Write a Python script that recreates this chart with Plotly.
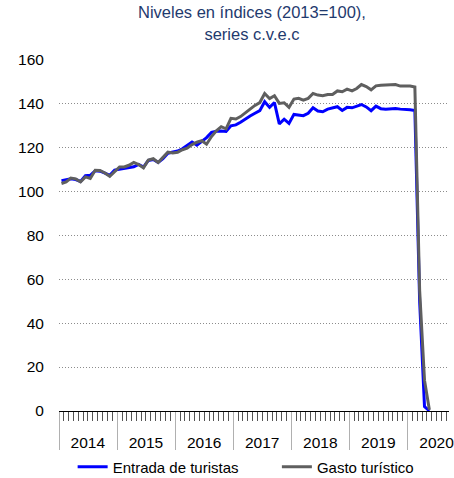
import pandas as pd
import plotly.graph_objects as go

# Monthly series, January 2014 to May 2020 (index 2013 = 100, seasonally and calendar adjusted)
months = pd.date_range("2014-01-01", "2020-05-01", freq="MS")

entrada_turistas = [
    105.0, 105.3, 105.8, 105.5, 104.6, 107.2, 107.4, 109.5, 109.3, 108.4, 107.4, 109.8,  # 2014
    110.2, 110.4, 110.8, 111.3, 112.4, 111.2, 114.2, 114.6, 113.3, 115.0, 117.5, 118.0,  # 2015
    118.5, 119.5, 121.0, 122.6, 121.2, 122.9, 124.6, 127.0, 127.5, 127.6, 127.4, 130.0,  # 2016
    130.4, 131.6, 133.2, 134.5, 135.7, 136.9, 141.0, 138.4, 140.6, 130.9, 133.0, 131.1,  # 2017
    135.2, 134.9, 134.6, 135.7, 138.2, 136.7, 136.4, 137.6, 138.2, 138.7, 137.0, 138.4,  # 2018
    138.2, 139.0, 139.7, 138.6, 136.9, 139.0, 137.8, 137.6, 137.9, 137.9, 137.6, 137.6,  # 2019
    137.3, 137.0, 50.0, 2.0, 0.0,                                                        # 2020
]

gasto_turistico = [
    103.7, 104.4, 106.2, 105.8, 104.4, 106.7, 106.0, 109.7, 109.6, 108.5, 107.0, 109.3,  # 2014
    111.2, 111.2, 112.0, 113.3, 112.3, 110.8, 114.4, 115.0, 113.3, 115.6, 118.0, 117.6,  # 2015
    117.9, 119.1, 119.8, 121.4, 122.5, 123.2, 121.6, 125.1, 127.7, 129.6, 128.6, 133.4,  # 2016
    133.1, 134.2, 135.7, 137.6, 139.3, 140.6, 144.7, 142.4, 143.7, 140.2, 140.5, 138.4,  # 2017
    142.2, 142.5, 141.7, 142.5, 144.7, 144.0, 143.7, 144.3, 144.3, 145.9, 145.5, 146.7,  # 2018
    145.9, 147.0, 148.8, 147.9, 146.4, 148.2, 148.5, 148.5, 148.5, 148.8, 148.1, 148.1,  # 2019
    148.1, 147.7, 55.0, 14.0, 0.5,                                                       # 2020
]

years = [2014, 2015, 2016, 2017, 2018, 2019, 2020]
year_starts = [f"{y}-01-01" for y in years] + ["2021-01-01"]
year_mids = [f"{y}-07-01" for y in years]
year_labels = [str(y) for y in years]

x_range = ["2014-01-01", "2020-09-17"]
FONT = "Arial, 'Liberation Sans', sans-serif"
PAD = "\u00a0" * 8  # spacing between the two legend entries

fig = go.Figure()
fig.add_trace(go.Scatter(
    x=months, y=entrada_turistas, name="Entrada de turistas" + PAD, mode="lines",
    line=dict(color="#0000FF", width=3),
    xperiod="M1", xperiodalignment="middle",
))
fig.add_trace(go.Scatter(
    x=months, y=gasto_turistico, name="Gasto turístico", mode="lines",
    line=dict(color="#5F5F5F", width=3),
    xperiod="M1", xperiodalignment="middle",
))
# invisible trace carrying the year-label axis
fig.add_trace(go.Scatter(
    x=[months[0]], y=[None], xaxis="x2", showlegend=False, hoverinfo="skip",
))

fig.update_layout(
    width=454, height=478,
    margin=dict(l=58.7, r=0, t=60, b=67),
    paper_bgcolor="white", plot_bgcolor="white",
    font=dict(family=FONT, size=15, color="#000000"),
    title=dict(
        text="Niveles en índices (2013=100),<br>series c.v.e.c",
        x=0.555, xanchor="center", xref="container",
        y=0.962, yanchor="top", yref="container",
        font=dict(family=FONT, size=16.5, color="#1F3A6E"),
    ),
    xaxis=dict(
        type="date", range=x_range,
        tickmode="array", tickvals=year_starts, showticklabels=False,
        ticks="outside", ticklen=38, tickcolor="#B0B0B0", tickwidth=1,
        showline=True, linecolor="#000000", linewidth=1,
        showgrid=False, zeroline=False,
        minor=dict(dtick="M1", tick0="2014-01-01", ticks="outside", ticklen=9,
                   tickcolor="#555555", tickwidth=1, showgrid=False),
    ),
    xaxis2=dict(
        type="date", range=x_range, overlaying="x", anchor="y", side="bottom",
        tickmode="array", tickvals=year_mids, ticktext=year_labels,
        ticks="outside", ticklen=17, tickcolor="rgba(0,0,0,0)",
        showline=False, showgrid=False, zeroline=False,
        ticklabeloverflow="allow",
        tickfont=dict(family=FONT, size=15.5, color="#000000"),
    ),
    yaxis=dict(
        range=[0, 160], tickvals=[0, 20, 40, 60, 80, 100, 120, 140, 160],
        ticks="outside", ticklen=11, tickcolor="rgba(0,0,0,0)",
        showline=False, zeroline=False,
        showgrid=True, gridcolor="#8C8C8C", gridwidth=1, griddash="1px,2px",
        tickfont=dict(family=FONT, size=15.5, color="#000000"),
    ),
    legend=dict(
        orientation="h", xref="container", yref="container",
        x=0.16, xanchor="left", y=1 - 467 / 478, yanchor="middle",
        font=dict(family=FONT, size=15, color="#000000"),
        itemwidth=30, bgcolor="rgba(0,0,0,0)",
    ),
    showlegend=True,
)

fig.write_html("out.html")
